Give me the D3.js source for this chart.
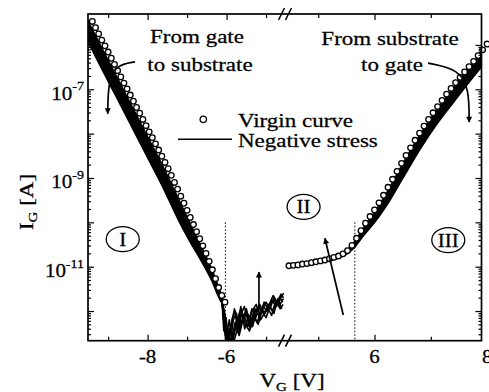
<!DOCTYPE html>
<html><head><meta charset="utf-8">
<script src="https://cdn.jsdelivr.net/npm/d3@7"></script>
<style>
body{margin:0;background:#fff}
svg{display:block}
text{font-family:"Liberation Serif","Times New Roman",serif;fill:#000;stroke:#000;stroke-width:0.3}
</style>
</head><body>
<svg id="c" width="489" height="392"></svg>
<script>
// ---------------- data (log10 of gate current, V in volts) ----------------
const virginLeftV = [-9.40,-9.32,-9.24,-9.16,-9.08,-9.00,-8.92,-8.84,-8.76,-8.68,-8.60,-8.52,-8.44,-8.36,-8.28,-8.20,-8.12,-8.04,-7.96,-7.88,-7.80,-7.72,-7.64,-7.56,-7.48,-7.40,-7.32,-7.24,-7.16,-7.08,-7.00,-6.92,-6.84,-6.76,-6.68,-6.60,-6.52,-6.44,-6.36,-6.28,-6.20,-6.12,-6.04];
const virginLeftLogI = [-5.47,-5.61,-5.75,-5.89,-6.02,-6.16,-6.30,-6.44,-6.58,-6.72,-6.86,-6.99,-7.13,-7.27,-7.41,-7.54,-7.68,-7.82,-7.96,-8.09,-8.23,-8.37,-8.51,-8.65,-8.79,-8.94,-9.10,-9.25,-9.41,-9.57,-9.73,-9.89,-10.05,-10.21,-10.37,-10.53,-10.70,-10.88,-11.07,-11.27,-11.47,-11.65,-11.80];

const virginRightV = [4.48,4.56,4.64,4.72,4.80,4.88,4.96,5.04,5.12,5.20,5.28,5.36,5.44,5.52,5.60,5.68,5.76,5.84,5.92,6.00,6.08,6.16,6.24,6.32,6.40,6.48,6.56,6.64,6.72,6.80,6.88,6.96,7.04,7.12,7.20,7.28,7.36,7.44,7.52,7.60,7.68,7.76,7.84,7.92,8.00];
const virginRightLogI = [-10.98,-10.97,-10.96,-10.94,-10.93,-10.91,-10.89,-10.87,-10.85,-10.82,-10.79,-10.76,-10.71,-10.64,-10.52,-10.36,-10.19,-10.02,-9.87,-9.72,-9.56,-9.39,-9.21,-9.03,-8.85,-8.67,-8.49,-8.32,-8.15,-7.99,-7.83,-7.68,-7.53,-7.39,-7.25,-7.11,-6.98,-6.85,-6.73,-6.61,-6.49,-6.37,-6.24,-6.11,-5.98];

// negative-stress curves, left branch (several stress steps, overlapping into a band)
const stressLeftV = [-9.60,-9.20,-8.80,-8.40,-8.00,-7.60,-7.20,-6.90,-6.70,-6.50,-6.35,-6.22,-6.12];
const stressLeftLogI = [
  [-5.34,-6.04,-6.73,-7.42,-8.11,-8.80,-9.55,-10.11,-10.47,-10.85,-11.16,-11.47,-11.70],
  [-5.47,-6.17,-6.86,-7.55,-8.24,-8.93,-9.68,-10.22,-10.56,-10.92,-11.22,-11.52,-11.73],
  [-5.60,-6.30,-6.99,-7.68,-8.37,-9.06,-9.81,-10.33,-10.65,-10.99,-11.27,-11.56,-11.76],
  [-5.73,-6.43,-7.12,-7.81,-8.50,-9.19,-9.94,-10.44,-10.74,-11.06,-11.32,-11.60,-11.79]
];
// negative-stress curves, right branch
const stressRightV = [4.45,4.80,5.10,5.40,5.60,5.80,6.00,6.20,6.50,6.80,7.10,7.40,7.70,7.95];
const stressRightLogI = [
  [-10.99,-10.93,-10.86,-10.74,-10.54,-10.16,-9.80,-9.40,-8.71,-8.07,-7.50,-7.00,-6.51,-6.12],
  [-10.99,-10.93,-10.86,-10.75,-10.56,-10.20,-9.86,-9.47,-8.80,-8.16,-7.59,-7.09,-6.60,-6.21],
  [-10.99,-10.93,-10.87,-10.76,-10.58,-10.24,-9.92,-9.54,-8.89,-8.25,-7.68,-7.18,-6.69,-6.30],
  [-10.99,-10.93,-10.87,-10.77,-10.60,-10.28,-9.98,-9.62,-8.98,-8.34,-7.77,-7.27,-6.78,-6.39]
];
// noise-floor part of the negative-stress curves (region II, left of the break)
const noiseV = [
  [-6.12,-6.02,-5.95,-5.88,-5.80,-5.72,-5.65,-5.55,-5.45,-5.35,-5.25,-5.15,-5.05,-4.95,-4.85,-4.75,-4.65,-4.58],
  [-6.12,-6.05,-6.00,-5.92,-5.85,-5.78,-5.70,-5.60,-5.50,-5.40,-5.30,-5.20,-5.10,-5.00,-4.90,-4.80,-4.70,-4.60],
  [-6.12,-6.08,-6.02,-5.96,-5.90,-5.83,-5.75,-5.68,-5.58,-5.48,-5.38,-5.28,-5.18,-5.08,-4.98,-4.88,-4.78,-4.68,-4.56],
  [-6.12,-6.00,-5.93,-5.86,-5.76,-5.66,-5.56,-5.46,-5.36,-5.26,-5.16,-5.06,-4.96,-4.86,-4.76,-4.66,-4.55],
  [-6.12,-6.06,-6.00,-5.94,-5.86,-5.78,-5.70,-5.62,-5.52,-5.42,-5.32,-5.22,-5.12,-5.02,-4.92,-4.82,-4.72,-4.62,-4.56],
  [-6.12,-6.04,-5.98,-5.90,-5.82,-5.74,-5.64,-5.54,-5.44,-5.34,-5.24,-5.14,-5.04,-4.94,-4.84,-4.74,-4.64,-4.57],
  [-6.12,-6.07,-6.01,-5.97,-5.91,-5.84,-5.76,-5.68,-5.60,-5.50,-5.40,-5.30,-5.20,-5.10,-5.00,-4.90,-4.80,-4.70,-4.60]
];
const noiseLogI = [
  [-11.70,-12.20,-12.62,-12.30,-11.95,-12.40,-12.10,-11.90,-12.25,-12.00,-11.85,-12.10,-11.80,-11.95,-11.75,-11.90,-11.70,-11.80],
  [-11.73,-12.40,-12.70,-12.50,-12.15,-12.00,-12.35,-12.20,-11.95,-12.30,-12.05,-11.90,-12.00,-11.80,-11.95,-11.70,-11.85,-11.65],
  [-11.76,-12.00,-12.70,-12.55,-12.70,-12.20,-12.05,-12.45,-12.15,-12.05,-12.20,-11.95,-12.10,-11.88,-12.00,-11.82,-11.75,-11.90,-11.72],
  [-11.79,-12.55,-12.20,-12.70,-12.30,-12.00,-12.10,-12.35,-11.95,-12.15,-11.85,-12.05,-11.92,-12.10,-11.80,-11.72,-11.60],
  [-11.74,-12.30,-12.70,-12.40,-12.60,-12.25,-12.50,-12.05,-12.30,-12.45,-12.10,-12.25,-11.95,-12.05,-11.85,-11.65,-11.80,-11.62,-11.70],
  [-11.78,-12.10,-12.70,-12.35,-12.70,-12.45,-11.90,-12.40,-12.10,-12.35,-12.00,-12.20,-12.05,-11.85,-12.00,-11.78,-11.95,-11.85,-11.75],
  [-11.72,-12.45,-12.15,-12.70,-12.45,-12.65,-12.30,-12.55,-12.25,-12.05,-12.40,-12.15,-12.30,-12.00,-12.15,-11.90,-12.05,-11.72,-11.95]
];

const xTicksLeftMajor = [-8,-6];
const xTicksLeftMinor = [-9,-7,-5];
const xTicksRightMajor = [6,8];
const xTicksRightMinor = [5,7];
const yDecades = [-12,-11,-10,-9,-8,-7,-6];
const yLabelExps = [-11,-9,-7];
const regionLabels = ["I","II","III"];
const legendLabels = ["Virgin curve","Negative stress"];

// ---------------- layout ----------------
const FL=88, FR=481.5, FT=14, FB=340.7, BRK=285;
const svg = d3.select("#c");
const xL = d3.scaleLinear().domain([-9.51,-4.52]).range([FL,BRK]);
const xR = d3.scaleLinear().domain([4.41,7.9]).range([BRK,FR]);
const y = d3.scaleLog().domain([Math.pow(10,-12.669), Math.pow(10,-5.302)]).range([FB,FT]);
const P = v => Math.pow(10,v);
const SQ = 0.85;

const defs = svg.append("defs");
defs.append("clipPath").attr("id","clipL").append("rect")
  .attr("x",FL).attr("y",FT).attr("width",BRK-FL).attr("height",FB-FT);
defs.append("clipPath").attr("id","clipR").append("rect")
  .attr("x",BRK).attr("y",FT).attr("width",FR-BRK).attr("height",FB-FT);
defs.append("marker").attr("id","ah").attr("viewBox","0 0 10 10")
  .attr("refX",9).attr("refY",5).attr("markerWidth",9).attr("markerHeight",6)
  .attr("markerUnits","userSpaceOnUse").attr("orient","auto")
  .append("path").attr("d","M0,0 L10,5 L0,10 Z").attr("fill","#000");

function txt(g, x, yy, size, anchor, str){
  return g.append("text").attr("transform",`translate(${x},${yy}) scale(1,${SQ})`)
    .attr("font-size",size).attr("text-anchor",anchor).text(str);
}

// dotted boundary lines
svg.append("line").attr("x1",xL(-6.03)).attr("x2",xL(-6.03)).attr("y1",y(P(-10.0))).attr("y2",FB)
  .attr("stroke","#000").attr("stroke-width",1).attr("stroke-dasharray","1.5,2");
svg.append("line").attr("x1",xR(5.65)).attr("x2",xR(5.65)).attr("y1",y(P(-10.0))).attr("y2",FB)
  .attr("stroke","#000").attr("stroke-width",1).attr("stroke-dasharray","1.5,2");

// stress curves
const lineL = d3.line().x(d=>xL(d[0])).y(d=>y(P(d[1]))).curve(d3.curveMonotoneX);
const lineR = d3.line().x(d=>xR(d[0])).y(d=>y(P(d[1]))).curve(d3.curveMonotoneX);
const lineN = d3.line().x(d=>xL(d[0])).y(d=>y(P(d[1])));

const gL = svg.append("g").attr("clip-path","url(#clipL)");
stressLeftLogI.forEach(arr=>{
  gL.append("path").attr("d",lineL(stressLeftV.map((v,i)=>[v,arr[i]])))
    .attr("fill","none").attr("stroke","#000").attr("stroke-width",3.2);
});
noiseV.forEach((vs,k)=>{
  gL.append("path").attr("d",lineN(vs.map((v,i)=>[v,noiseLogI[k][i]])))
    .attr("fill","none").attr("stroke","#000").attr("stroke-width",1.6).attr("stroke-linejoin","round");
});
const gR = svg.append("g").attr("clip-path","url(#clipR)");
stressRightLogI.forEach(arr=>{
  gR.append("path").attr("d",lineR(stressRightV.map((v,i)=>[v,arr[i]])))
    .attr("fill","none").attr("stroke","#000").attr("stroke-width",3);
});

// virgin circles
const circStyle = s => s.attr("r",2.8).attr("fill","#fff").attr("stroke","#000").attr("stroke-width",1.3);
svg.append("g").selectAll("circle").data(virginLeftV.map((v,i)=>[v,virginLeftLogI[i]])).join("circle")
  .attr("cx",d=>xL(d[0])).attr("cy",d=>y(P(d[1]))).call(circStyle);
svg.append("g").selectAll("circle").data(virginRightV.map((v,i)=>[v,virginRightLogI[i]])).join("circle")
  .attr("cx",d=>xR(d[0])).attr("cy",d=>y(P(d[1]))).call(circStyle);

// arrows (in data coordinates)
const arrowPath = (sx, pts) => d3.line().x(d=>sx(d[0])).y(d=>y(P(d[1]))).curve(d3.curveBasis)(pts);
svg.append("path").attr("d",arrowPath(xL,[[-8.32,-6.38],[-8.80,-6.45],[-9.00,-6.85],[-9.01,-7.55]]))
  .attr("fill","none").attr("stroke","#000").attr("stroke-width",1.7).attr("marker-end","url(#ah)");
svg.append("path").attr("d",arrowPath(xR,[[6.95,-6.41],[7.50,-6.55],[7.68,-7.00],[7.68,-7.74]]))
  .attr("fill","none").attr("stroke","#000").attr("stroke-width",1.7).attr("marker-end","url(#ah)");
svg.append("path").attr("d",arrowPath(xL,[[-5.18,-12.0],[-5.18,-11.12]]))
  .attr("fill","none").attr("stroke","#000").attr("stroke-width",1.7).attr("marker-end","url(#ah)");
svg.append("path").attr("d",arrowPath(xR,[[5.445,-12.09],[5.119,-10.36]]))
  .attr("fill","none").attr("stroke","#000").attr("stroke-width",1.7).attr("marker-end","url(#ah)");

// region labels
const regionPos = [[xL(-8.63), y(P(-10.38))],[xR(4.74), y(P(-9.65))],[xR(7.31), y(P(-10.40))]];
regionLabels.forEach((lab,i)=>{
  const [cx,cy] = regionPos[i];
  svg.append("ellipse").attr("cx",cx).attr("cy",cy).attr("rx",16.5).attr("ry",12.5)
    .attr("fill","none").attr("stroke","#000").attr("stroke-width",1.3);
  txt(svg, cx, cy+6.5, 21, "middle", lab);
});

// annotations
txt(svg, 197, 43, 23, "middle", "From gate");
txt(svg, 200, 70.5, 23, "middle", "to substrate");
txt(svg, 390, 45, 23, "middle", "From substrate");
txt(svg, 392, 70.5, 23, "middle", "to gate");

// legend
svg.append("circle").attr("cx",203.3).attr("cy",119.3).call(circStyle).attr("r",3.2);
svg.append("line").attr("x1",178).attr("x2",232).attr("y1",139.3).attr("y2",139.3)
  .attr("stroke","#000").attr("stroke-width",1.4);
txt(svg, 238, 126.7, 23, "start", legendLabels[0]);
txt(svg, 238, 147, 23, "start", legendLabels[1]);

// ---------------- axes ----------------
const minorY = [];
yDecades.forEach(d=>{ for(let m=2;m<=9;m++){ const v=m*Math.pow(10,d-1); if(v>y.domain()[0]&&v<y.domain()[1]) minorY.push(v);} });
const majY = yDecades.map(P).filter(v=>v>y.domain()[0]&&v<y.domain()[1]);
const axStyle = g => { g.select(".domain").remove(); g.selectAll("line").attr("stroke","#000").attr("stroke-width",1.2); };

svg.append("g").attr("transform",`translate(${FL},0)`).call(d3.axisLeft(y).tickValues(majY).tickSizeInner(-6).tickSizeOuter(0).tickFormat(()=>"")).call(axStyle);
svg.append("g").attr("transform",`translate(${FL},0)`).call(d3.axisLeft(y).tickValues(minorY).tickSizeInner(-3).tickSizeOuter(0).tickFormat(()=>"")).call(axStyle);
svg.append("g").attr("transform",`translate(${FR},0)`).call(d3.axisRight(y).tickValues(majY).tickSizeInner(-6).tickSizeOuter(0).tickFormat(()=>"")).call(axStyle);
svg.append("g").attr("transform",`translate(${FR},0)`).call(d3.axisRight(y).tickValues(minorY).tickSizeInner(-3).tickSizeOuter(0).tickFormat(()=>"")).call(axStyle);

// y labels 10^n
yLabelExps.forEach(e=>{
  const t = svg.append("text").attr("transform",`translate(84,${y(P(e))+10.5}) scale(1,${SQ})`).attr("text-anchor","end");
  t.append("tspan").attr("font-size",21).text("10");
  t.append("tspan").attr("font-size",14).attr("dy",-11).text(String(e));
});

// x axes (bottom: labels, top: mirrored ticks)
function xAxes(sc, major, minor){
  svg.append("g").attr("transform",`translate(0,${FB})`).call(d3.axisBottom(sc).tickValues(major).tickSizeInner(-6).tickSizeOuter(0).tickFormat(()=>"")).call(axStyle);
  svg.append("g").attr("transform",`translate(0,${FB})`).call(d3.axisBottom(sc).tickValues(minor).tickSizeInner(-4).tickSizeOuter(0).tickFormat(()=>"")).call(axStyle);
  svg.append("g").attr("transform",`translate(0,${FT})`).call(d3.axisTop(sc).tickValues(major).tickSizeInner(-6).tickSizeOuter(0).tickFormat(()=>"")).call(axStyle);
  svg.append("g").attr("transform",`translate(0,${FT})`).call(d3.axisTop(sc).tickValues(minor).tickSizeInner(-4).tickSizeOuter(0).tickFormat(()=>"")).call(axStyle);
  major.forEach(v=> txt(svg, sc(v), FB+22.5, 21, "middle", String(v)));
}
xAxes(xL, xTicksLeftMajor, xTicksLeftMinor);
xAxes(xR, xTicksRightMajor.filter(v=>v<=7.9), xTicksRightMinor);
txt(svg, xR(8), FB+22.5, 21, "middle", "8");

// frame
svg.append("rect").attr("x",FL).attr("y",FT).attr("width",FR-FL).attr("height",FB-FT)
  .attr("fill","none").attr("stroke","#000").attr("stroke-width",1.7);
// axis break marks
[FT, FB].forEach(yy=>{
  [-3.5, 3.5].forEach(dx=>{
    svg.append("line").attr("x1",BRK+dx-3).attr("y1",yy+6).attr("x2",BRK+dx+3).attr("y2",yy-6)
      .attr("stroke","#000").attr("stroke-width",1.5);
  });
});

// axis titles
const xt = svg.append("text").attr("transform",`translate(292,387) scale(1,${SQ})`).attr("text-anchor","middle").attr("font-size",23);
xt.append("tspan").text("V");
xt.append("tspan").attr("font-size",15).attr("dy",5).text("G");
xt.append("tspan").attr("dy",-5).text(" [V]");
const yt = svg.append("text").attr("transform",`translate(33,202) rotate(-90) scale(1,${SQ})`).attr("text-anchor","middle").attr("font-size",23);
yt.append("tspan").text("I");
yt.append("tspan").attr("font-size",15).attr("dy",5).text("G");
yt.append("tspan").attr("dy",-5).text(" [A]");
</script>
</body></html>
